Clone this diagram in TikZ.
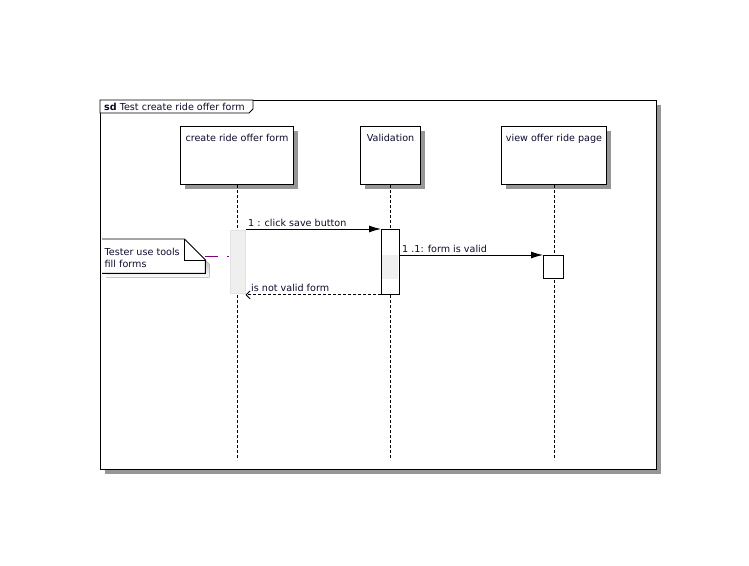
\documentclass[tikz,border=0pt]{standalone}
\usepackage{fontspec}
\setmainfont{DejaVu Sans}
\usetikzlibrary{arrows.meta,shadows}
\definecolor{shade}{HTML}{969696}
\definecolor{txt}{HTML}{0C0C2C}
\definecolor{actgray}{HTML}{EFEFEF}
\definecolor{actedge}{HTML}{E2E2E2}
\definecolor{notelink}{HTML}{800080}
\begin{document}
\begin{tikzpicture}[x=1pt,y=-1pt,
  every node/.style={font=\fontsize{9.6}{11}\selectfont, text=txt},
  shadowed/.style={drop shadow={shadow xshift=4pt,shadow yshift=-4pt,fill=shade,opacity=1}},
  framebox/.style={draw, fill=white, line width=1pt, anchor=north west, inner sep=0, minimum width=556pt, minimum height=369pt, shadowed},
  lifebox/.style={draw, fill=white, line width=1pt, anchor=north west, inner sep=0, minimum height=58pt, shadowed},
  lbl/.style={anchor=base west, inner sep=0},
  lifeline/.style={line width=0.8pt, dash pattern=on 3pt off 2pt},
  actA/.style={fill=actgray, draw=actedge, line width=0.5pt, anchor=north west, inner sep=0},
  actB/.style={fill=white, draw, line width=0.9pt, anchor=north west, inner sep=0},
  msg/.style={line width=0.9pt, -{Latex[length=12pt,width=7pt]}},
  ret/.style={line width=0.9pt, dash pattern=on 3pt off 2pt, -{Straight Barb[length=4pt,width=8pt]}},
  ]
\useasboundingbox (0,0) rectangle (749,565);

% frame
\node[framebox] (frame) at (100,100) {};
\draw[line width=0.9pt, fill=white] (frame.north west) -- ++(153,0) -- ++(0,9) -- ++(-4,4) -- ++(-149,0) -- cycle;
\node[anchor=base west, inner sep=0] (title) at (104,110) {\textbf{sd} Test create ride offer form};

% lifeline heads
\node[lifebox, minimum width=113pt] (ll1) at (180,126) {};
\node[lifebox, minimum width=60pt] (ll2) at (360,126) {};
\node[lifebox, minimum width=105pt] (ll3) at (501,126) {};
\node[anchor=base, inner sep=0] (t1) at ([yshift=-15.5pt]ll1.north) {create ride offer form};
\node[anchor=base, inner sep=0] (t2) at ([yshift=-15.5pt]ll2.north) {Validation};
\node[anchor=base, inner sep=0] (t3) at ([yshift=-15.5pt]ll3.north) {view offer ride page};

% lifelines
\coordinate (bottom) at (0,460);
\coordinate (e1) at (ll1.south |- bottom);
\coordinate (e2) at (ll2.south |- bottom);
\coordinate (e3) at (ll3.south |- bottom);
\draw[lifeline] (ll1.south) -- (e1);
\draw[lifeline] (ll2.south) -- (e2);
\draw[lifeline] (ll3.south) -- (e3);

% activations
\node[actA, minimum width=15pt, minimum height=63pt] (a1) at (230,230) {};
\node[actB, minimum width=18pt, minimum height=65pt] (a2) at (381,229) {};
\node[fill=actgray, anchor=north west, inner sep=0, minimum width=16pt, minimum height=24pt] (a2in) at (382,255) {};
\node[actB, minimum width=20pt, minimum height=23pt] (a3) at (543,255) {};

% messages
\draw[msg] (a1.east |- a2.north west) -- (a2.north west);
\node[lbl] (l1) at (248,226.5) {1 : click save button};
\draw[msg] (a2.east |- a3.north) -- (a3.north west);
\node[lbl] (l2) at (402,252) {1 .1: form is valid};
\draw[ret] (a2.south west) -- (a1.east |- a2.south west);
\node[lbl] (l3) at (251,291.5) {is not valid form};

% note
\node[anchor=north west, inner sep=0, minimum width=103pt, minimum height=34pt] (note) at (102,239) {};
\fill[shade] ([shift={(4,4)}]note.north west) -- ([shift={(-17,4)}]note.north east) -- ([shift={(4,25)}]note.north east) -- ([shift={(4,4)}]note.south east) -- ([shift={(4,4)}]note.south west) -- cycle;
\draw[line width=0.9pt, fill=white] (note.north west) -- ([xshift=-21pt]note.north east) -- ([yshift=-21pt]note.north east) -- (note.south east) -- (note.south west);
\draw[line width=0.9pt] ([xshift=-21pt]note.north east) -- ([shift={(-21,21)}]note.north east) -- ([yshift=-21pt]note.north east);
\node[lbl] (nt1) at (104.5,255.5) {Tester use tools};
\node[lbl] (nt2) at (104.5,267.5) {fill forms};
\draw[notelink, line width=0.8pt, dash pattern=on 13pt off 9pt on 1.5pt off 20pt] (note.east) -- (a1.west |- note.east);
\end{tikzpicture}
\end{document}
